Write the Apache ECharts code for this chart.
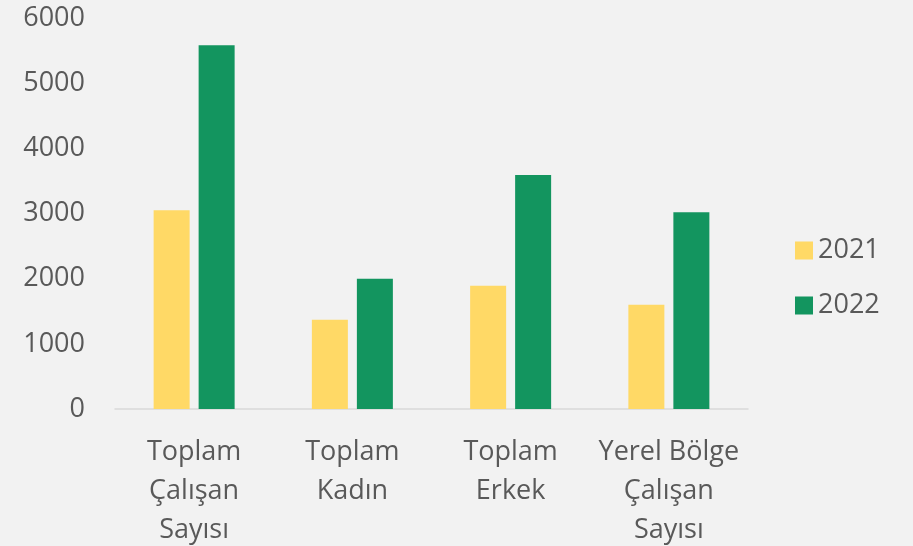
<!DOCTYPE html>
<html><head><meta charset="utf-8">
<script src="https://cdn.jsdelivr.net/npm/echarts@6/dist/echarts.min.js"></script>
<style>html,body{margin:0;padding:0;background:#f2f2f2;}#c{width:913px;height:546px;}</style>
</head><body><div id="c"></div>
<script>
const categories = ["Toplam\nÇalışan\nSayısı", "Toplam\nKadın", "Toplam\nErkek", "Yerel Bölge\nÇalışan\nSayısı"];
const series2021 = [3050, 1370, 1890, 1600];
const series2022 = [5580, 2000, 3590, 3020];
const yTicks = [0, 1000, 2000, 3000, 4000, 5000, 6000];

const font = "'Open Sans', 'Segoe UI', sans-serif";
const chart = echarts.init(document.getElementById('c'), null, {renderer: 'canvas'});
chart.setOption({
  backgroundColor: '#f2f2f2',
  animation: false,
  textStyle: {fontFamily: font},
  grid: {left: 115, right: 165, top: 18, bottom: 137, containLabel: false, outerBoundsMode: 'none'},
  legend: {
    orient: 'vertical', left: 790, top: 232,
    itemWidth: 18, itemHeight: 18, itemGap: 28, icon: 'rect',
    textStyle: {color: '#595959', fontSize: 27, fontFamily: font},
    data: ['2021', '2022']
  },
  xAxis: {
    type: 'category', data: categories,
    axisLine: {lineStyle: {color: '#d9d9d9', width: 1.5}},
    axisTick: {show: false},
    axisLabel: {color: '#595959', fontSize: 27, lineHeight: 39, margin: 24, fontFamily: font, interval: 0}
  },
  yAxis: {
    type: 'value', min: yTicks[0], max: yTicks[yTicks.length - 1], interval: 1000,
    axisLine: {show: false}, axisTick: {show: false}, splitLine: {show: false},
    axisLabel: {color: '#595959', fontSize: 27, margin: 30, fontFamily: font, formatter: v => String(v)}
  },
  series: [
    {name: '2021', type: 'bar', data: series2021, barWidth: 36, barGap: '25%', itemStyle: {color: '#ffd966'}},
    {name: '2022', type: 'bar', data: series2022, barWidth: 36, itemStyle: {color: '#13955f'}}
  ]
});
</script></body></html>
